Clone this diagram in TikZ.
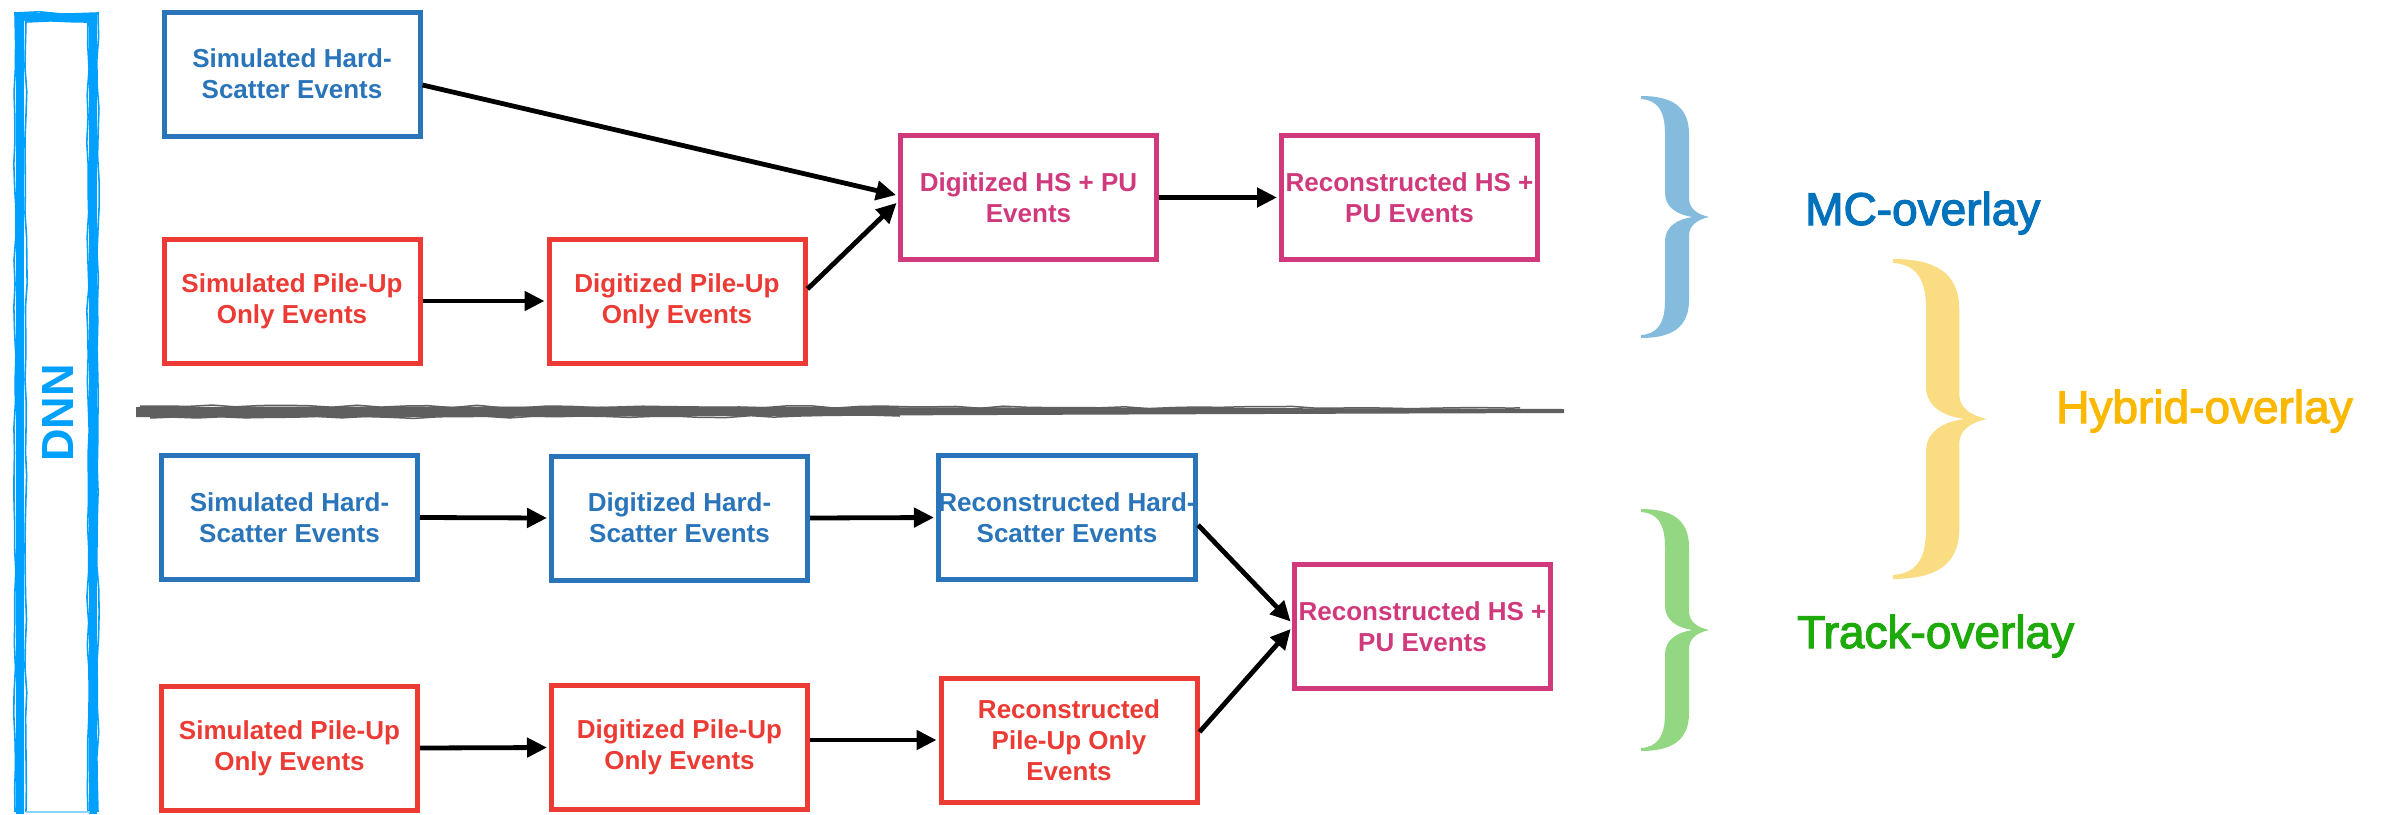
\documentclass[tikz,border=0pt]{standalone}
\usepackage{fontspec}
\setmainfont{Liberation Sans}
\newfontfamily\tagfont[FakeBold=2.5]{Liberation Sans}
\usetikzlibrary{arrows.meta,decorations.pathmorphing}

\definecolor{hsblue}{RGB}{42,116,186}
\definecolor{pured}{RGB}{236,58,52}
\definecolor{mixpink}{RGB}{208,58,124}
\definecolor{dnnblue}{RGB}{0,160,255}
\definecolor{mcbrace}{RGB}{133,187,221}
\definecolor{hybrace}{RGB}{250,220,130}
\definecolor{trbrace}{RGB}{147,215,130}
\definecolor{mctext}{RGB}{0,114,188}
\definecolor{hytext}{RGB}{250,184,0}
\definecolor{trtext}{RGB}{30,170,10}
\definecolor{rulegray}{RGB}{95,95,95}

\tikzset{
  pics/curly/.style={code={
    \fill[#1] (0,0) .. controls (30,0) and (48,10) .. (48,38) -- (48,102)
      .. controls (48,112) and (55,118) .. (68,121)
      .. controls (55,124) and (48,130) .. (48,140) -- (48,204)
      .. controls (48,232) and (30,242) .. (0,242) -- (0,239)
      .. controls (16,238) and (24,228) .. (24,204) -- (24,145)
      .. controls (24,131) and (36,123) .. (52,121)
      .. controls (36,119) and (24,111) .. (24,97) -- (24,38)
      .. controls (24,14) and (16,4) .. (0,3) -- cycle;
  }}
}

\begin{document}
\begin{tikzpicture}[x=1pt,y=-1pt,
  box/.style={draw=#1, text=#1, line width=5pt, minimum width=256pt,
    minimum height=124pt, inner sep=0pt, align=center,
    font=\fontsize{26}{31}\selectfont\bfseries},
  flow/.style={line width=4.8pt, shorten >=2pt, -{Triangle[length=20pt,width=19pt]}},
  tag/.style={anchor=base west, inner sep=0pt, text=#1,
    font=\tagfont\fontsize{46}{52}\selectfont},
  brush/.style={decorate, decoration={random steps, segment length=24pt, amplitude=1.2pt}}
]
\pgfmathsetseed{7}
\useasboundingbox (0,0) rectangle (2392,814);
\fill[white] (0,0) rectangle (2392,814);

% DNN bar: hand-drawn frame with vertical label
\draw[dnnblue, line width=8pt] (20,814) -- (20,17) -- (93,17) -- (93,814);
\draw[dnnblue, line width=1.6pt, brush] (15,812) -- (15,13) -- (98,13) -- (98,812);
\draw[dnnblue, line width=1.6pt, brush] (26,812) -- (26,22) -- (88,22) -- (88,812);
\draw[dnnblue!45, line width=2pt] (26,812) -- (90,812);
\node[rotate=90, text=dnnblue, inner sep=0pt,
  font=\fontsize{45}{50}\selectfont\bfseries] (dnn) at (58,413) {DNN};

% separator between the two chains
\fill[rulegray] (136,407) .. controls (400,406) and (900,407) .. (1564,409)
  -- (1564,413) .. controls (900,415) and (400,418) .. (136,417) -- cycle;
\draw[rulegray, line width=1.5pt, brush] (140,406) -- (1520,408);
\draw[rulegray, line width=1.5pt, brush] (150,418) -- (900,416);

% upper chain: MC-overlay
\node[box=hsblue]  (sHSa)  at (292,74)      {Simulated Hard-\\Scatter Events};
\node[box=pured]   (sPUa)  at (292,301)     {Simulated Pile-Up\\Only Events};
\node[box=pured]   (dPUa)  at (677,301)     {Digitized Pile-Up\\Only Events};
\node[box=mixpink] (dMIX)  at (1028.5,197.5) {Digitized HS + PU\\Events};
\node[box=mixpink] (rMIXa) at (1409.5,197.5) {Reconstructed HS +\\PU Events};

% lower chain: track-overlay
\node[box=hsblue]  (sHSb)  at (289.5,517.5) {Simulated Hard-\\Scatter Events};
\node[box=pured]   (sPUb)  at (289.5,748)   {Simulated Pile-Up\\Only Events};
\node[box=hsblue]  (dHSb)  at (679.5,518)   {Digitized Hard-\\Scatter Events};
\node[box=pured]   (dPUb)  at (679.5,747.5) {Digitized Pile-Up\\Only Events};
\node[box=hsblue]  (rHSb)  at (1067,517.5)  {Reconstructed Hard-\\Scatter Events};
\node[box=pured]   (rPUb)  at (1069,740)    {Reconstructed\\Pile-Up Only\\Events};
\node[box=mixpink] (rMIXb) at (1422.5,626.5) {Reconstructed HS +\\PU Events};

% connectors
\draw[flow] ([yshift=-11pt]sHSa.east) -- ([yshift=2pt]dMIX.west);
\draw[flow] (sPUa.east) -- (dPUa.west);
\draw[flow] ([yshift=12pt]dPUa.east) -- ([yshift=-4pt]dMIX.west);
\draw[flow] (dMIX.east) -- (rMIXa.west);

\draw[flow] (sHSb.east) -- (dHSb.west);
\draw[flow] (dHSb.east) -- (rHSb.west);
\draw[flow] ([yshift=-7.5pt]rHSb.east) -- ([yshift=3.5pt]rMIXb.west);
\draw[flow] (sPUb.east) -- (dPUb.west);
\draw[flow] ([yshift=7.5pt]dPUb.east) -- (rPUb.west);
\draw[flow] ([yshift=8pt]rPUb.east) -- ([yshift=-1pt]rMIXb.west);

% braces and overlay labels
\pic at (1641,96) {curly=mcbrace};
\pic at (1641,509) {curly=trbrace};
\begin{scope}[shift={(1893,259)}, xscale=1.38, yscale=1.322]
  \pic[transform shape] {curly=hybrace};
\end{scope}
\node[tag=mctext] (mcl) at (1805,225) {MC-overlay};
\node[tag=hytext] (hyl) at (2056,423) {Hybrid-overlay};
\node[tag=trtext] (trl) at (1797,648) {Track-overlay};
\end{tikzpicture}
\end{document}
